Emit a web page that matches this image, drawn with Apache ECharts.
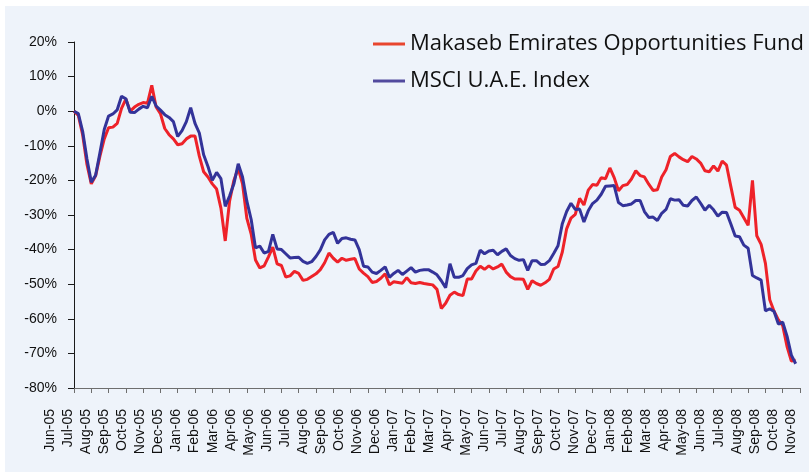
<!DOCTYPE html>
<html>
<head>
<meta charset="utf-8">
<script src="https://cdn.jsdelivr.net/npm/echarts@6/dist/echarts.min.js"></script>
<style>
  html, body { margin: 0; padding: 0; background: #ffffff; }
  #chart { width: 809px; height: 474px; }
</style>
</head>
<body>
<div id="chart"></div>
<script>
// month labels on the x axis
const months = [
  'Jun-05', 'Jul-05', 'Aug-05', 'Sep-05', 'Oct-05', 'Nov-05', 'Dec-05',
  'Jan-06', 'Feb-06', 'Mar-06', 'Apr-06', 'May-06', 'Jun-06', 'Jul-06', 'Aug-06', 'Sep-06', 'Oct-06', 'Nov-06', 'Dec-06',
  'Jan-07', 'Feb-07', 'Mar-07', 'Apr-07', 'May-07', 'Jun-07', 'Jul-07', 'Aug-07', 'Sep-07', 'Oct-07', 'Nov-07', 'Dec-07',
  'Jan-08', 'Feb-08', 'Mar-08', 'Apr-08', 'May-08', 'Jun-08', 'Jul-08', 'Aug-08', 'Sep-08', 'Oct-08', 'Nov-08'
];

// weekly points (4 per month) for the two lines, in %
const weeks = Array.from({ length: 169 }, (_, i) => i);

const fundName = 'Makaseb Emirates Opportunities Fund';
const indexName = 'MSCI U.A.E. Index';

const fund = [
  0, -1.2, -6.8, -15.4, -21, -18.7, -13, -8, -4.8, -4.6,
  -3.5, 0.8, 3.5, 0, 1.2, 2, 2.5, 2.3, 7.5, 1.2,
  -0.7, -5, -6.8, -8, -9.7, -9.4, -8, -7.2, -7.2, -13,
  -17.5, -19, -21, -22.5, -28, -37.5, -26, -20, -16.5, -21,
  -31, -35.5, -43, -45.3, -44.7, -42.1, -39.3, -44.1, -44.6, -47.9,
  -47.6, -46.3, -46.9, -48.9, -48.6, -47.8, -47, -45.8, -43.8, -41,
  -42.5, -43.6, -42.5, -43.1, -42.8, -42.6, -45.6, -46.8, -47.8, -49.5,
  -49.2, -48.3, -47, -50.2, -49.3, -49.5, -49.7, -48.1, -49.6, -49.8,
  -49.5, -49.8, -50, -50.2, -51.5, -57, -55.5, -53.2, -52.3, -53,
  -53.3, -48.5, -48.5, -46.2, -44.8, -45.7, -44.7, -45.6, -45, -44.2,
  -46.5, -47.8, -48.5, -48.5, -48.6, -51.5, -49, -49.8, -50.3, -49.6,
  -48.6, -45.6, -44.9, -40.7, -34, -30.9, -29.8, -25.2, -27.1, -22.8,
  -21.2, -21.4, -19.2, -19.5, -16.4, -19.2, -23, -21.5, -21.2, -19.6,
  -17.2, -18.6, -19, -21.1, -22.9, -22.7, -19, -16.9, -13.1, -12.2,
  -13.2, -14, -14.6, -13.1, -13.8, -15, -17.2, -17.5, -15.8, -17.3,
  -14.4, -15.6, -21.8, -27.8, -28.6, -30.8, -33, -20, -36, -38.5,
  -44, -54.5, -57.8, -60.3, -62, -68, -72.2, -72
];

const msci = [
  0, -0.7, -5.8, -13.8, -20.5, -18.5, -12, -5.3, -1.4, -0.8,
  0.4, 4.3, 3.6, -0.3, -0.4, 0.6, 1.4, 1, 4.3, 1.5,
  0.3, -1, -1.8, -3, -7.3, -5.6, -3, 1, -3.5, -6.3,
  -12.6, -16, -20, -17.7, -19.5, -27.5, -24.5, -21, -15.2, -19,
  -26, -31.3, -39.5, -39, -41, -40.5, -35.6, -39.8, -40, -41.2,
  -42.4, -42.3, -42.2, -43.4, -44, -43.5, -42, -40.1, -37.2, -35.6,
  -35, -38.2, -36.8, -36.6, -37, -37.2, -40, -44.8, -45, -46.5,
  -46.9, -46, -45, -48, -46.9, -46, -47.2, -46.2, -45.2, -46.5,
  -46, -45.8, -45.8, -46.5, -47.3, -49, -51, -44.1, -48, -48,
  -47.5, -45.5, -44.4, -44, -40.2, -41.2, -40.4, -40.2, -41.5, -40.5,
  -39.8, -41.7, -42.6, -43.1, -42.9, -46, -43.2, -43.2, -44.3, -44.2,
  -43.2, -41.1, -38.9, -32.5, -29, -26.6, -28.4, -28.3, -32, -28.8,
  -26.7, -25.7, -24, -21.7, -21.6, -21.5, -26.4, -27.3, -27.1, -26.8,
  -25.8, -25.8, -29, -30.7, -30.6, -31.6, -29.5, -28.4, -25.3, -25.7,
  -25.6, -27.2, -27.4, -25.8, -24.8, -26.6, -28.6, -27.2, -28.5, -30.3,
  -29.2, -29.3, -32.6, -36.1, -36.3, -38.7, -39.6, -47.5, -48.2, -48.8,
  -57.7, -57.1, -57.9, -61.5, -61, -65, -70.5, -73
];

const chart = echarts.init(document.getElementById('chart'));

const option = {
  animation: false,
  backgroundColor: '#ffffff',
  graphic: [
    {
      type: 'rect',
      left: 5,
      top: 6,
      z: -10,
      shape: { width: 804, height: 466 },
      style: { fill: '#eef3fa' }
    }
  ],
  legend: {
    orient: 'vertical',
    left: 368,
    top: 27,
    icon: 'rect',
    itemWidth: 32,
    itemHeight: 3,
    itemGap: 13,
    textStyle: {
      fontFamily: 'Open Sans',
      fontSize: 22,
      lineHeight: 24,
      color: '#111111'
    },
    data: [
      { name: fundName, itemStyle: { color: '#e8452e' } },
      { name: indexName, itemStyle: { color: '#524a9e' } }
    ]
  },
  grid: [
    // plot area
    { left: 74, right: 9, top: 42, bottom: 86, containLabel: false },
    // only used to place the month labels
    { left: 50, right: 18, top: 42, bottom: 86, containLabel: false }
  ],
  xAxis: [
    {
      // weekly data axis
      type: 'category',
      gridIndex: 0,
      data: weeks,
      boundaryGap: false,
      show: false
    },
    {
      // month ticks on the 0% line
      type: 'category',
      gridIndex: 0,
      position: 'bottom',
      data: months,
      boundaryGap: true,
      axisLine: { show: true, onZero: true, lineStyle: { color: '#6e6e6e', width: 1 } },
      axisTick: { show: true, interval: 0, length: 5, lineStyle: { color: '#6e6e6e' } },
      axisLabel: { show: false },
      splitLine: { show: false }
    },
    {
      // month labels
      type: 'category',
      gridIndex: 1,
      position: 'bottom',
      data: months,
      boundaryGap: false,
      axisLine: { show: false, onZero: false },
      axisTick: { show: false },
      axisLabel: {
        interval: 0,
        hideOverlap: false,
        rotate: 90,
        margin: 21,
        fontFamily: 'Liberation Sans',
        fontSize: 14,
        color: '#111111'
      }
    }
  ],
  yAxis: [
    {
      type: 'value',
      gridIndex: 0,
      min: -80,
      max: 20,
      interval: 10,
      axisLine: { show: true, lineStyle: { color: '#1a1a1a', width: 1 } },
      axisTick: { show: true, length: 6, lineStyle: { color: '#1a1a1a' } },
      axisLabel: {
        formatter: '{value}%',
        margin: 17,
        fontFamily: 'Liberation Sans',
        fontSize: 14,
        color: '#111111'
      },
      splitLine: { show: false }
    },
    {
      type: 'value',
      gridIndex: 1,
      min: -80,
      max: 20,
      show: false
    }
  ],
  series: [
    {
      name: fundName,
      type: 'line',
      xAxisIndex: 0,
      yAxisIndex: 0,
      data: fund,
      symbol: 'none',
      color: '#ee2229',
      lineStyle: { width: 3, color: '#ee2229' }
    },
    {
      name: indexName,
      type: 'line',
      xAxisIndex: 0,
      yAxisIndex: 0,
      data: msci,
      symbol: 'none',
      color: '#333399',
      lineStyle: { width: 3, color: '#333399' }
    }
  ]
};

chart.setOption(option);
</script>
</body>
</html>
